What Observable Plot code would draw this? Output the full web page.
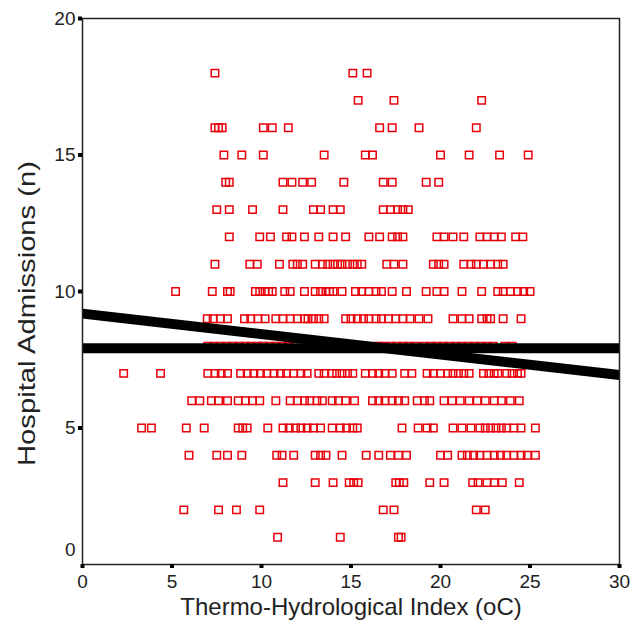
<!DOCTYPE html>
<html><head><meta charset="utf-8">
<script src="https://cdn.jsdelivr.net/npm/d3@7"></script>
<script src="https://cdn.jsdelivr.net/npm/@observablehq/plot@0.6"></script>
<style>body{margin:0;background:#fff}</style>
</head><body><div id="chart"></div>
<script>
// Thermo-Hydrological Index values, one array per admissions count (n)
const adm1 = [10.9, 14.4, 17.65, 17.8];
const adm2 = [5.66, 7.6, 8.6, 9.9, 16.8, 17.4, 22.0, 22.5];
const adm3 = [11.2, 13.0, 14.0, 14.9, 15.15, 15.4, 17.5, 17.7, 17.95, 19.4, 20.2, 21.8, 22.1, 22.6, 23.0, 23.45, 24.4];
const adm4 = [5.95, 7.5, 8.1, 8.9, 10.85, 11.15, 11.8, 13.0, 13.3, 13.6, 14.5, 15.85, 16.55, 17.2, 17.65, 18.1, 20.0, 20.4, 21.2, 21.5, 21.85, 22.2, 22.6, 23.0, 23.35, 23.7, 24.1, 24.5, 24.85, 25.3];
const adm5 = [3.3, 3.85, 5.8, 6.8, 8.7, 8.95, 9.2, 10.35, 11.2, 11.55, 11.9, 12.2, 12.55, 12.9, 13.3, 13.95, 14.4, 14.75, 15.1, 15.35, 17.85, 18.75, 19.25, 19.6, 20.7, 21.2, 21.7, 22.2, 22.5, 22.8, 23.1, 23.4, 23.7, 24.1, 24.5, 25.3];
const adm6 = [6.1, 6.55, 7.2, 7.6, 8.1, 8.7, 9.1, 9.5, 9.9, 10.8, 11.6, 12.0, 12.4, 12.7, 13.1, 13.4, 13.95, 14.3, 14.7, 15.2, 16.2, 16.55, 16.9, 17.3, 17.65, 18.0, 18.7, 19.1, 19.4, 20.2, 20.65, 21.1, 21.6, 22.05, 22.5, 23.0, 23.4, 23.9, 24.4];
const adm7 = [2.3, 4.36, 7.0, 7.4, 7.75, 8.1, 8.83, 9.2, 9.57, 9.94, 10.3, 10.7, 11.06, 11.4, 11.8, 12.2, 12.55, 13.2, 13.5, 13.95, 14.2, 14.5, 14.8, 15.1, 15.8, 16.2, 16.55, 16.9, 17.3, 18.0, 18.4, 19.25, 19.6, 20.0, 20.4, 20.7, 21.0, 21.3, 21.6, 22.4, 22.7, 23.0, 23.2, 23.7, 24.0, 24.3, 24.5];
const adm8 = [7.0, 7.35, 7.7, 8.05, 8.4, 8.75, 9.1, 9.4, 9.75, 10.1, 10.45, 10.8, 11.15, 11.5, 11.85, 13.0, 14.0, 15.0, 16.5, 16.85, 17.2, 17.55, 17.9, 18.25, 18.6, 19.1, 19.45, 19.8, 20.15, 20.5, 20.85, 21.2, 21.55, 21.9, 22.25, 22.6, 22.95, 23.6, 24.0];
const adm9 = [6.97, 7.3, 7.7, 8.1, 9.05, 9.4, 9.8, 10.2, 10.8, 11.2, 11.6, 12.0, 12.4, 12.6, 12.9, 13.2, 13.5, 14.7, 15.0, 15.35, 15.7, 16.0, 16.4, 16.7, 17.1, 17.5, 17.9, 18.3, 18.8, 19.3, 20.7, 21.2, 21.6, 22.3, 22.6, 22.8, 23.5, 24.5];
const adm10 = [5.2, 7.25, 8.1, 8.25, 9.66, 9.9, 10.2, 10.4, 10.6, 11.3, 11.6, 12.4, 13.0, 13.3, 13.6, 13.8, 14.0, 14.5, 15.25, 15.6, 16.0, 16.4, 16.7, 17.3, 18.1, 19.2, 19.8, 20.2, 21.2, 22.3, 23.2, 23.5, 23.9, 24.3, 24.65, 25.0];
const adm11 = [7.4, 9.35, 9.76, 11.0, 11.75, 12.0, 12.3, 13.0, 13.4, 13.7, 14.0, 14.25, 14.5, 14.8, 15.1, 15.35, 15.6, 17.0, 17.4, 17.9, 19.6, 19.9, 20.2, 21.3, 21.7, 22.0, 22.4, 22.8, 23.2, 23.5];
const adm12 = [8.2, 9.9, 10.5, 11.4, 11.7, 12.4, 13.2, 14.0, 14.7, 16.0, 16.6, 17.3, 17.6, 17.9, 19.8, 20.2, 20.7, 21.3, 22.2, 22.6, 23.0, 23.4, 24.2, 24.6];
const adm13 = [7.5, 8.2, 9.5, 11.2, 12.9, 13.3, 14.0, 14.4, 16.8, 17.2, 17.6, 17.9, 18.2];
const adm14 = [8.0, 8.2, 11.2, 11.7, 12.3, 12.8, 14.6, 16.8, 17.3, 19.2, 19.9];
const adm15 = [7.9, 8.9, 10.1, 13.5, 15.8, 16.2, 20.0, 21.6, 23.3, 24.9];
const adm16 = [7.4, 7.6, 7.8, 10.1, 10.6, 11.5, 16.6, 17.3, 18.8, 22.0];
const adm17 = [15.4, 17.4, 22.3];
const adm18 = [7.4, 15.1, 15.9];

const admissionRows = [adm1, adm2, adm3, adm4, adm5, adm6, adm7, adm8, adm9, adm10, adm11, adm12, adm13, adm14, adm15, adm16, adm17, adm18];
const points = admissionRows.flatMap((xs, i) => xs.map(x => ({thi: x, n: i + 1})));

// fitted lines (end points)
const lineX = [0, 30];
const regressionY = [9.19, 6.94];
const meanY = [7.92, 7.92];
const regression = lineX.map((x, i) => ({thi: x, n: regressionY[i]}));
const meanLine = lineX.map((x, i) => ({thi: x, n: meanY[i]}));

const xTicks = [0, 5, 10, 15, 20, 25, 30];
const yTicks = [5, 10, 15, 20];
const xLabel = "Thermo-Hydrological Index (oC)";
const yLabel = "Hospital Admissions (n)";

const font = "'Liberation Sans', Arial, sans-serif";

const chart = Plot.plot({
  width: 643, height: 630,
  marginLeft: 82, marginRight: 24, marginTop: 18, marginBottom: 66,
  style: {fontFamily: font, background: "#fff", color: "#222"},
  x: {domain: [0, 30]},
  y: {domain: [0, 20]},
  marks: [
    Plot.dot(points, {x: "thi", y: "n", symbol: "square", r: 4.2, stroke: "#e8000b", strokeWidth: 1.5, fill: "none"}),
    Plot.line(meanLine, {x: "thi", y: "n", stroke: "#000", strokeWidth: 10, strokeLinecap: "butt"}),
    Plot.line(regression, {x: "thi", y: "n", stroke: "#000", strokeWidth: 10, strokeLinecap: "butt"}),
    Plot.frame({stroke: "#222", strokeWidth: 1.5}),
    Plot.axisX({ticks: xTicks, tickSize: 4, strokeWidth: 4, stroke: "#000", tickPadding: 6, fontSize: 19, label: null}),
    Plot.axisY({ticks: yTicks, tickSize: 4, strokeWidth: 4, stroke: "#000", tickPadding: 3, fontSize: 19, label: null}),
    Plot.axisY({ticks: [0], tickSize: 0, tickPadding: 7, dy: -15, fontSize: 19, label: null}),
    Plot.text([xLabel], {frameAnchor: "bottom", dy: 43, fontSize: 24, textAnchor: "middle", lineAnchor: "middle"}),
    Plot.text([yLabel], {frameAnchor: "left", dx: -55, dy: 22, rotate: -90, fontSize: 24, textAnchor: "middle", lineAnchor: "middle"})
  ]
});
chart.querySelectorAll("text").forEach(t => {
  if (t.textContent === yLabel) {
    t.setAttribute("textLength", 305);
    t.setAttribute("lengthAdjust", "spacingAndGlyphs");
  }
});
document.getElementById("chart").appendChild(chart);
</script>
</body></html>
